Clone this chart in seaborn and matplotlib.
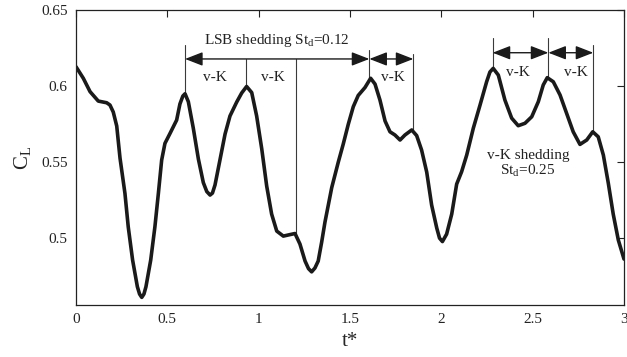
import numpy as np
import pandas as pd
import matplotlib
matplotlib.use("Agg")
import matplotlib.pyplot as plt
import seaborn as sns

# ---- data ----
t_star = [0.000, 0.040, 0.077, 0.122, 0.168, 0.186, 0.204, 0.223, 0.241, 0.268,
          0.286, 0.310, 0.336, 0.348, 0.360, 0.372, 0.383, 0.409, 0.432, 0.451,
          0.469, 0.487, 0.515, 0.551, 0.569, 0.585, 0.597, 0.615, 0.642, 0.670,
          0.697, 0.716, 0.734, 0.747, 0.761, 0.788, 0.816, 0.843, 0.880, 0.907,
          0.934, 0.962, 0.989, 1.017, 1.044, 1.071, 1.099, 1.135, 1.172, 1.199,
          1.226, 1.254, 1.273, 1.290, 1.308, 1.326, 1.345, 1.363, 1.400, 1.436,
          1.463, 1.491, 1.518, 1.545, 1.582, 1.613, 1.637, 1.664, 1.692, 1.719,
          1.746, 1.774, 1.801, 1.838, 1.865, 1.892, 1.920, 1.947, 1.975, 1.990,
          2.006, 2.029, 2.057, 2.084, 2.111, 2.139, 2.175, 2.212, 2.248, 2.266,
          2.284, 2.312, 2.348, 2.385, 2.421, 2.458, 2.495, 2.531, 2.558, 2.580,
          2.613, 2.650, 2.686, 2.722, 2.759, 2.796, 2.829, 2.859, 2.887, 2.914,
          2.941, 2.969, 3.000]
c_l = [0.6127, 0.6051, 0.5963, 0.5901, 0.5890, 0.5875, 0.5829, 0.5737, 0.5526, 0.5294,
       0.5074, 0.4855, 0.4680, 0.4632, 0.4610, 0.4632, 0.4680, 0.4855, 0.5074, 0.5294,
       0.5513, 0.5623, 0.5689, 0.5776, 0.5882, 0.5934, 0.5949, 0.5897, 0.5724, 0.5520,
       0.5365, 0.5306, 0.5283, 0.5296, 0.5349, 0.5513, 0.5684, 0.5803, 0.5895, 0.5954,
       0.5997, 0.5957, 0.5803, 0.5586, 0.5342, 0.5158, 0.5046, 0.5013, 0.5023, 0.5030,
       0.4961, 0.4849, 0.4799, 0.4778, 0.4803, 0.4849, 0.4974, 0.5105, 0.5332, 0.5500,
       0.5618, 0.5750, 0.5864, 0.5938, 0.5990, 0.6051, 0.6013, 0.5908, 0.5770, 0.5699,
       0.5678, 0.5645, 0.5678, 0.5711, 0.5674, 0.5579, 0.5434, 0.5217, 0.5066, 0.5000,
       0.4977, 0.5026, 0.5158, 0.5355, 0.5436, 0.5546, 0.5722, 0.5875, 0.6028, 0.6092,
       0.6116, 0.6072, 0.5908, 0.5789, 0.5739, 0.5755, 0.5798, 0.5897, 0.6007, 0.6055,
       0.6028, 0.5941, 0.5820, 0.5699, 0.5616, 0.5645, 0.5699, 0.5666, 0.5546, 0.5362,
       0.5158, 0.4987, 0.4862]

x_ticks = [0, 0.5, 1, 1.5, 2, 2.5, 3]
x_tick_labels = ["0", "0.5", "1", "1.5", "2", "2.5", "3"]
y_ticks = [0.5, 0.55, 0.6, 0.65]
y_tick_labels = ["0.5", "0.55", "0.6", "0.65"]

# annotation markers: (t, top, bottom)
marker_t = [0.597, 0.931, 1.204, 1.606, 1.847, 2.281, 2.586, 2.832]
marker_top = [0.6270, 0.6178, 0.6178, 0.6237, 0.6210, 0.6316, 0.6316, 0.6270]
marker_bottom = [0.5949, 0.5997, 0.5030, 0.6050, 0.5711, 0.6116, 0.6055, 0.5699]
# double arrows
arrow_start = [0.597, 1.606, 2.281, 2.586]
arrow_end = [1.606, 1.847, 2.586, 2.832]
arrow_level = [0.6178, 0.6178, 0.6219, 0.6219]
vk_t = [0.761, 1.078, 1.733, 2.417, 2.736]
vk_y = [0.6033, 0.6033, 0.6033, 0.6066, 0.6066]

sns.set_style("white")
plt.rcParams["font.family"] = ["Liberation Serif", "DejaVu Serif"]
plt.rcParams["mathtext.fontset"] = "custom"
plt.rcParams["mathtext.rm"] = "Liberation Serif"
plt.rcParams["mathtext.it"] = "Liberation Serif:italic"

fig = plt.figure(figsize=(6.27, 3.57), dpi=100)
ax = fig.add_axes([0.1212, 0.1457, 0.8740, 0.8263])

df = pd.DataFrame({"t": t_star, "CL": c_l})
sns.lineplot(data=df, x="t", y="CL", ax=ax, color="#1a1a1a", linewidth=2.6,
             sort=False, solid_joinstyle="round", solid_capstyle="round")

for t, top, bot in zip(marker_t, marker_top, marker_bottom):
    ax.plot([t, t], [top, bot], color="#3a3a3a", linewidth=0.8, zorder=1)

for a, b, lvl in zip(arrow_start, arrow_end, arrow_level):
    ax.annotate("", xy=(b, lvl), xytext=(a, lvl),
                arrowprops=dict(arrowstyle="<|-|>,head_length=0.9,head_width=0.35",
                                color="#1a1a1a", lw=1.0, shrinkA=0, shrinkB=0,
                                mutation_scale=12))

fs = 11
ax.text(1.100, 0.6274, r"LSB shedding St$_{\mathrm{d}}$=0.12", ha="center",
        va="baseline", fontsize=fs, color="#222222")
for t, y in zip(vk_t, vk_y):
    ax.text(t, y, "v-K", ha="center", va="baseline", fontsize=fs, color="#222222")
ax.text(2.476, 0.5518, "v-K shedding", ha="center", va="baseline", fontsize=fs,
        color="#222222")
ax.text(2.474, 0.5414, r"St$_{\mathrm{d}}$=0.25", ha="center", va="baseline",
        fontsize=fs, color="#222222")

ax.set_xlim(0, 3)
ax.set_ylim(0.456, 0.65)
ax.set_xticks(x_ticks)
ax.set_xticklabels(x_tick_labels)
ax.set_yticks(y_ticks)
ax.set_yticklabels(y_tick_labels)
ax.tick_params(direction="in", length=5, width=0.8, top=True, right=True,
               labelsize=11, colors="#222222")
ax.tick_params(axis="x", pad=6)
ax.tick_params(axis="y", pad=6)
for s in ax.spines.values():
    s.set_visible(True)
    s.set_color("#222222")
    s.set_linewidth(0.9)

ax.set_xlabel("t*", fontsize=15, labelpad=4)
ax.set_ylabel(r"C$_{\mathrm{L}}$", fontsize=15, labelpad=6)

fig.savefig("out.png", dpi=100, facecolor="white")
